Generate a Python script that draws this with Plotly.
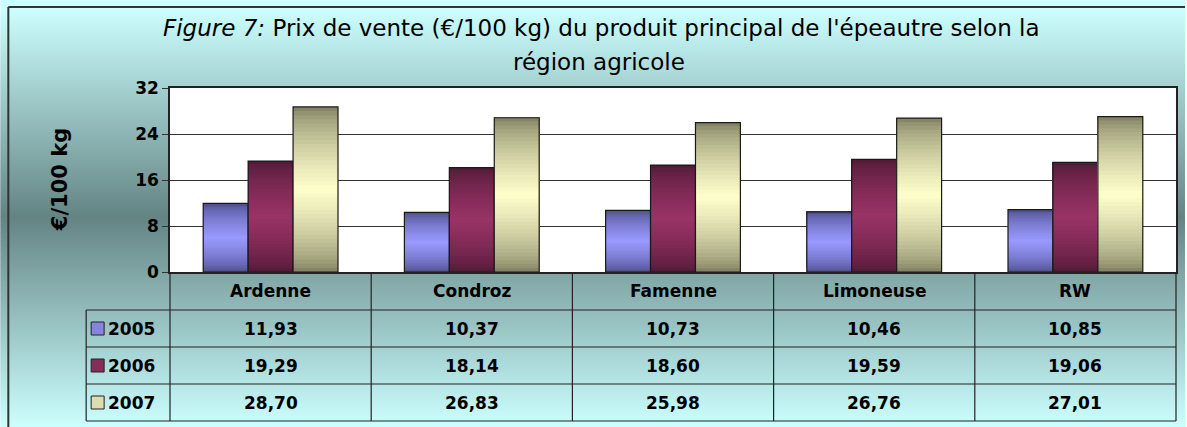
import plotly.graph_objects as go

regions = ["Ardenne", "Condroz", "Famenne", "Limoneuse", "RW"]
years = ["2005", "2006", "2007"]
prix_2005 = [11.93, 10.37, 10.73, 10.46, 10.85]
prix_2006 = [19.29, 18.14, 18.60, 19.59, 19.06]
prix_2007 = [28.70, 26.83, 25.98, 26.76, 27.01]
y_ticks = [0, 8, 16, 24, 32]

series = [prix_2005, prix_2006, prix_2007]
# light (middle) / dark (edges) colour of each bar gradient
light = [(153, 153, 255), (153, 51, 102), (255, 255, 204)]
dark = [(72, 72, 128), (74, 24, 50), (118, 118, 88)]

W, H = 1187, 427
L, R, T, B = 170, 9, 88, 155
pw, ph = W - L - R, H - T - B
FONT = "DejaVu Sans"


def px(x):
    return (x - L) / pw


def py(y):
    return (H - B - y) / ph


def mix(c1, c2, f):
    return "rgb(%d,%d,%d)" % tuple(round(a + (b - a) * f) for a, b in zip(c1, c2))


def fmt(v):
    return ("%.2f" % v).replace(".", ",")


fig = go.Figure()

# bars drawn as overlapping slices (each one up to the top) to mimic the excel gradient
N = 40
for j, vals in enumerate(series):
    for k in range(N):
        t = (k + 0.5) / N
        f = (1 - abs(2 * t - 1)) ** 0.6
        col = mix(dark[j], light[j], f)
        fig.add_trace(go.Bar(
            x=regions, y=[v * (N - k) / N for v in vals], base=[v * k / N for v in vals],
            offsetgroup=str(j), marker=dict(color=col, line=dict(width=0)),
            showlegend=False, hoverinfo="skip"))
    fig.add_trace(go.Bar(
        x=regions, y=vals, offsetgroup=str(j), name=years[j],
        marker=dict(color="rgba(0,0,0,0)", line=dict(color="#1a1a1a", width=1.2)),
        showlegend=False))

shapes = []
# background gradient: light cyan -> grey teal -> light cyan
top_c, mid_c = (204, 255, 255), (100, 132, 132)
mid_y = 217
step = 2
for y0 in range(0, H, step):
    yc = y0 + step / 2
    if yc < mid_y:
        f = max(0, (yc - 8) / (mid_y - 8))
    else:
        f = (H - yc) / (H - mid_y)
    shapes.append(dict(type="rect", xref="paper", yref="paper", layer="below",
                       x0=px(0), x1=px(W), y0=py(y0 + step + 0.5), y1=py(y0),
                       fillcolor=mix(top_c, mid_c, f), line=dict(width=0)))
# white plot area
shapes.append(dict(type="rect", xref="paper", yref="paper", layer="below",
                   x0=0, x1=1, y0=0, y1=1, fillcolor="white", line=dict(width=0)))

# outer frame
shapes.append(dict(type="line", xref="paper", yref="paper", x0=px(8), x1=px(8),
                   y0=py(7), y1=py(H), line=dict(color="#333333", width=2)))
shapes.append(dict(type="line", xref="paper", yref="paper", x0=px(8), x1=px(W),
                   y0=py(7), y1=py(7), line=dict(color="#333333", width=2)))

# data table
row_px = [272, 310, 347, 384, 421]
line_c = dict(color="#222222", width=1.2)
for yy in row_px[1:]:
    shapes.append(dict(type="line", xref="paper", yref="paper", x0=px(86), x1=1,
                       y0=py(yy), y1=py(yy), line=line_c))
for i in range(len(regions) + 1):
    xx = i / len(regions)
    shapes.append(dict(type="line", xref="paper", yref="paper", x0=xx, x1=xx,
                       y0=py(row_px[0]), y1=py(row_px[-1]), line=line_c))
shapes.append(dict(type="line", xref="paper", yref="paper", x0=px(86), x1=px(86),
                   y0=py(row_px[1]), y1=py(row_px[-1]), line=line_c))

bold = dict(family=FONT, size=17, color="black", weight="bold")
annotations = []
for r in regions:
    annotations.append(dict(x=r, xref="x", y=py((row_px[0] + row_px[1]) / 2), yref="paper",
                            yanchor="middle", text=r, showarrow=False, font=bold))
for j, vals in enumerate(series):
    ky = (row_px[j + 1] + row_px[j + 2]) / 2
    yc = py(ky)
    for r, v in zip(regions, vals):
        annotations.append(dict(x=r, xref="x", y=yc, yref="paper", yanchor="middle",
                                text=fmt(v), showarrow=False, font=bold))
    annotations.append(dict(x=px(106), xref="paper", y=yc, yref="paper", xanchor="left",
                            yanchor="middle", text=years[j], showarrow=False, font=bold))
    shapes.append(dict(type="rect", xref="paper", yref="paper", x0=px(91), x1=px(104),
                       y0=py(ky + 6.5), y1=py(ky - 6.5), fillcolor=mix(dark[j], light[j], 0.75),
                       line=dict(color="#222222", width=1)))

# title
title_font = dict(family=FONT, size=23, color="black")
annotations.append(dict(x=px(602), xref="paper", y=py(28), yref="paper", showarrow=False,
                        xanchor="center", yanchor="middle",
                        text="<i>Figure 7:</i> Prix de vente (€/100 kg) du produit principal de l'épeautre selon la",
                        font=title_font))
annotations.append(dict(x=px(600), xref="paper", y=py(62), yref="paper", showarrow=False,
                        xanchor="center", yanchor="middle",
                        text="région agricole", font=title_font))
# y axis title
annotations.append(dict(x=px(60), xref="paper", y=py(180), yref="paper", showarrow=False,
                        xanchor="center", yanchor="middle", textangle=-90,
                        text="€/100 kg", font=dict(family=FONT, size=21, color="black", weight="bold")))

fig.update_layout(
    width=W, height=H,
    margin=dict(l=L, r=R, t=T, b=B),
    barmode="group", bargap=0.33, bargroupgap=0,
    paper_bgcolor="white", plot_bgcolor="white",
    shapes=shapes, annotations=annotations,
    showlegend=False,
    xaxis=dict(showticklabels=False, ticks="", showline=True, linecolor="#222222",
               linewidth=1.5, mirror=True, showgrid=False),
    yaxis=dict(range=[0, 32], tickvals=y_ticks, ticks="outside", ticklen=6,
               tickcolor="#333333", showline=True, linecolor="#222222", linewidth=1.5,
               mirror=True, showgrid=True, gridcolor="#333333", gridwidth=1,
               zeroline=False,
               tickfont=dict(family=FONT, size=17, color="black", weight="bold")),
)

fig.write_html("out.html", config={"displayModeBar": False},
               post_script="document.body.style.margin='0';")
